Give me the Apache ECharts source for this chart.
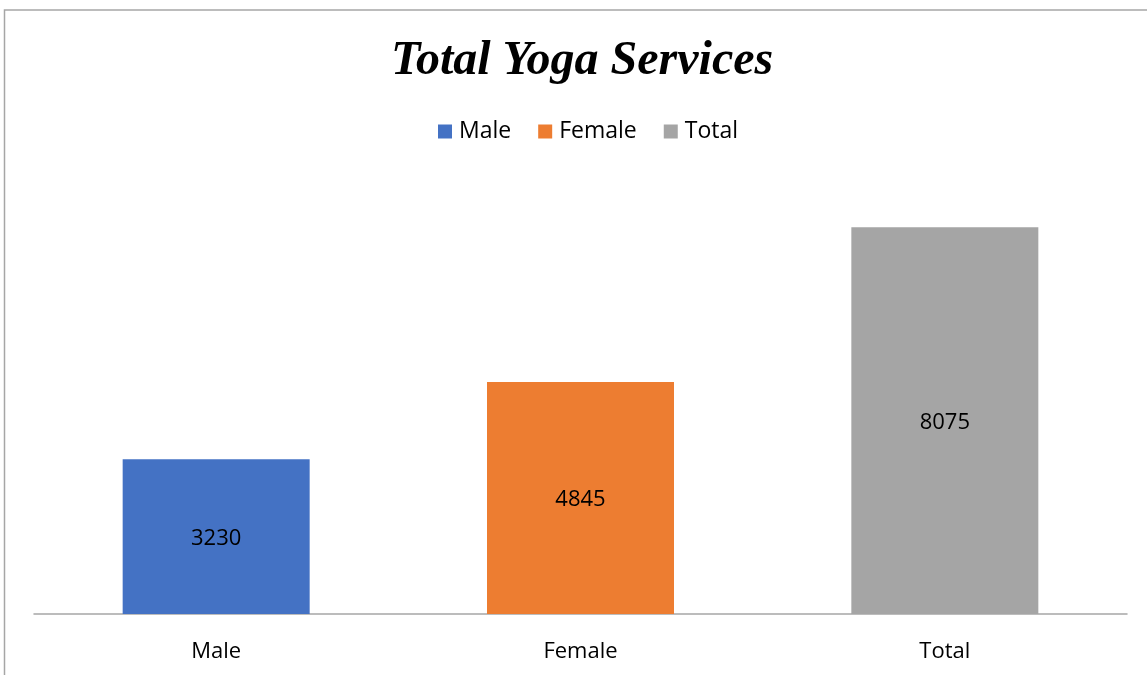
<!DOCTYPE html>
<html>
<head>
<meta charset="utf-8">
<script src="https://cdn.jsdelivr.net/npm/echarts@6/dist/echarts.min.js"></script>
<style>
  html, body { margin: 0; padding: 0; background: #fff; }
  #chart { width: 1147px; height: 675px; }
</style>
</head>
<body>
<div id="chart"></div>
<script>
const categories = ['Male', 'Female', 'Total'];
const seriesNames = ['Male', 'Female', 'Total'];
const values = [3230, 4845, 8075];
const colors = ['#4472C4', '#ED7D31', '#A5A5A5'];

const font = '"Open Sans", "Noto Sans", sans-serif';

// one series per category so the legend shows each one
const series = seriesNames.map((name, i) => ({
  name: name,
  type: 'bar',
  stack: 'all',
  barWidth: 187,
  itemStyle: { color: colors[i] },
  label: {
    show: true,
    position: 'inside',
    color: '#000',
    fontFamily: font,
    fontSize: 22,
    offset: [0, 2]
  },
  data: categories.map((c, j) => (j === i ? values[i] : null))
}));

const chart = echarts.init(document.getElementById('chart'));
chart.setOption({
  animation: false,
  color: colors,
  title: {
    text: 'Total Yoga Services',
    left: 386,
    top: 33,
    textStyle: {
      fontFamily: '"Liberation Serif", "DejaVu Serif", serif',
      fontStyle: 'italic',
      fontWeight: 'bold',
      fontSize: 48,
      color: '#000'
    }
  },
  legend: {
    data: seriesNames,
    top: 115,
    left: 433,
    icon: 'rect',
    itemWidth: 14,
    itemHeight: 14,
    itemGap: 27,
    textStyle: { fontFamily: font, fontSize: 23, color: '#000', padding: [0, 0, 0, 2] },
    padding: 5
  },
  grid: { left: 34, right: 20, top: 135, bottom: 61 },
  xAxis: {
    type: 'category',
    data: categories,
    axisTick: { show: false },
    axisLine: { lineStyle: { color: '#A6A6A6', width: 1.5 } },
    axisLabel: { fontFamily: font, fontSize: 22, color: '#000', margin: 27 }
  },
  yAxis: {
    type: 'value',
    min: 0,
    max: 10000,
    show: false,
    splitLine: { show: false }
  },
  graphic: [{
    type: 'rect',
    shape: { x: 4.5, y: 10, width: 1200, height: 700 },
    style: { fill: 'none', stroke: '#A6A6A6', lineWidth: 1.5 },
    silent: true
  }],
  series: series
});
</script>
</body>
</html>
